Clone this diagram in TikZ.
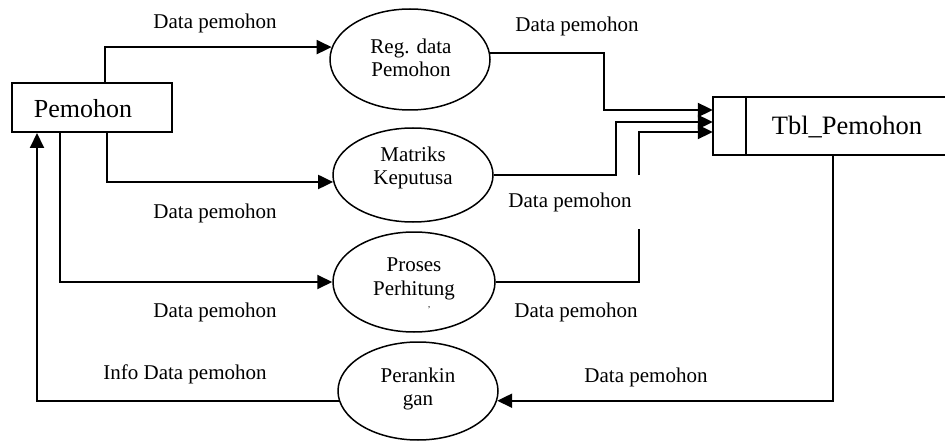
\documentclass[tikz,border=0pt]{standalone}
\usepackage{fontspec}
\setmainfont{Liberation Serif}
\usetikzlibrary{shapes.geometric,arrows.meta}
\begin{document}
\begin{tikzpicture}[x=1pt,y=-1pt,
  proc/.style={ellipse,draw,line width=1.5pt,inner sep=0pt},
  ptext/.style={align=center,font=\fontsize{21}{23.5}\selectfont,inner sep=0pt},
  lbl/.style={anchor=base,font=\fontsize{21}{24}\selectfont,inner sep=0pt},
  flow/.style={line width=2pt,-{Triangle[length=15pt,width=14pt]}},
  plain/.style={line width=2pt}]
\useasboundingbox (0,0) rectangle (945,441);

% external entity
\node[draw,line width=2pt,minimum width=160pt,minimum height=49pt,inner sep=0pt] (pem) at (92,107.5) {};
\node[anchor=base,font=\fontsize{26}{30}\selectfont,inner sep=0pt] (pemt) at (83,118) {Pemohon};

% data store
\node[minimum width=232pt,minimum height=58pt,inner sep=0pt] (tbl) at (829,126) {};
\draw[plain] (tbl.north east) -- (tbl.north west) -- (tbl.south west) -- (tbl.south east);
\draw[plain] ([xshift=33pt]tbl.north west) -- ([xshift=33pt]tbl.south west);
\node[anchor=base,font=\fontsize{26.5}{30}\selectfont,inner sep=0pt] (tblt) at (847,135) {Tbl\_Pemohon};

% processes
\node[proc,minimum width=160pt,minimum height=101pt] (reg) at (410,59.5) {};
\node[ptext] (regt) at (411,58) {Reg. data\\Pemohon};
\node[proc,minimum width=160pt,minimum height=94pt] (mat) at (413,175) {};
\node[ptext] (matt) at (413,168) {Matriks\\Keputusa};
\node[proc,minimum width=162pt,minimum height=100pt] (pro) at (414,282) {};
\node[ptext] (prot) at (414,279) {Proses\\Perhitung};
\node[font=\fontsize{9}{9}\selectfont,inner sep=0pt] (tick) at (429,310) {'};
\node[proc,minimum width=160pt,minimum height=98pt] (ran) at (418,391) {};
\node[ptext] (rant) at (418,389) {Perankin\\gan};

% flows from Pemohon
\draw[flow] ([xshift=13pt]pem.north) |- (reg.171);
\draw[flow] ([xshift=15pt]pem.south) |- (mat.185);
\draw[flow] ([xshift=-32pt]pem.south) |- (pro.west);
\draw[flow] (ran.187) -| ([xshift=-55pt]pem.south);

% flows to Tbl_Pemohon
\draw[flow] (reg.5.5) -| ([xshift=-109pt,yshift=16pt]tbl.west) -- ([yshift=16pt]tbl.west);
\draw[flow] (mat.east) -| ([xshift=-97pt,yshift=4pt]tbl.west) -- ([yshift=4pt]tbl.west);
\coordinate (g1) at (639,229);
\coordinate (g2) at (639,175);
\draw[plain] (pro.east) -| (g1);
\draw[flow] (g2) |- ([yshift=-6pt]tbl.west);

% flow to Perankingan
\draw[flow] ([xshift=4pt]tbl.south) |- (ran.-7);

% labels
\node[lbl] (l1) at (215,29) {Data pemohon};
\node[lbl] (l2) at (215,218) {Data pemohon};
\node[lbl] (l3) at (215,317) {Data pemohon};
\node[lbl] (l4) at (185,379) {Info Data pemohon};
\node[lbl] (l5) at (577,32) {Data pemohon};
\node[lbl] (l6) at (570,207) {Data pemohon};
\node[lbl] (l7) at (576,317) {Data pemohon};
\node[lbl] (l8) at (646,382) {Data pemohon};
\end{tikzpicture}
\end{document}
